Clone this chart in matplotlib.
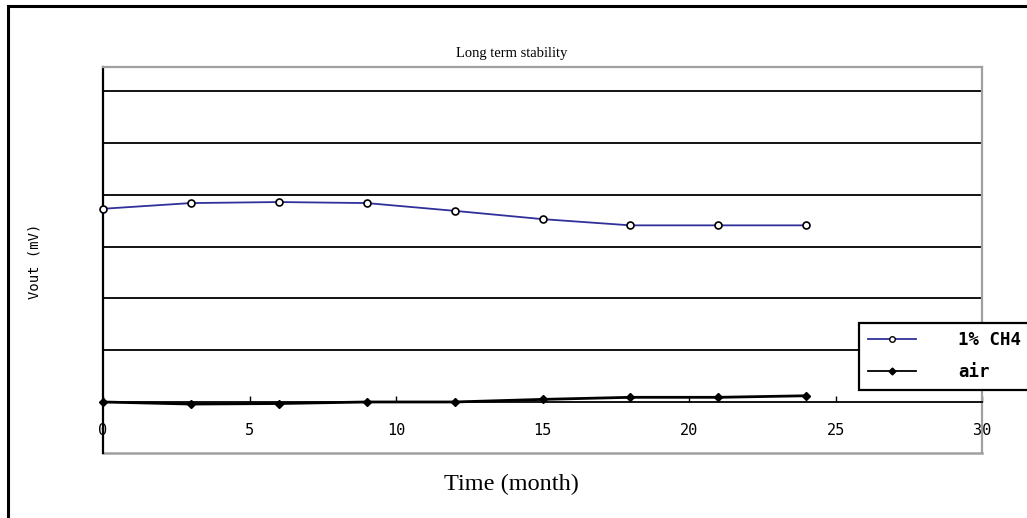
import matplotlib
matplotlib.use("Agg")
import matplotlib.pyplot as plt
from matplotlib.patches import Rectangle
from matplotlib.lines import Line2D

months = [0, 3, 6, 9, 12, 15, 18, 21, 24]
ch4 = [3.73, 3.84, 3.86, 3.84, 3.69, 3.53, 3.41, 3.41, 3.41]
air = [0.0, -0.04, -0.03, 0.0, 0.0, 0.05, 0.09, 0.09, 0.12]
xticks = [0, 5, 10, 15, 20, 25, 30]
grid_levels = [1, 2, 3, 4, 5, 6]

W, H = 1027, 518
fig = plt.figure(figsize=(W / 100, H / 100), dpi=100)
fig.patch.set_facecolor("white")

ax = fig.add_axes([103 / W, 1 - 453 / H, (982 - 103) / W, (453 - 67) / H])
ax.set_xlim(0, 30)
ax.set_ylim(-0.985, 6.467)

gray = "#a0a0a0"
for lv in grid_levels:
    ax.axhline(lv, color="black", lw=1.3, zorder=1)

ax.spines["left"].set_color("black")
ax.spines["left"].set_linewidth(1.6)
for s in ["top", "right"]:
    ax.spines[s].set_color(gray)
    ax.spines[s].set_linewidth(1.6)
ax.spines["bottom"].set_position(("data", 0))
ax.spines["bottom"].set_color("black")
ax.spines["bottom"].set_linewidth(1.3)
ax.plot([0, 1], [0, 0], transform=ax.transAxes, color=gray, lw=1.8, clip_on=False)

ax.set_yticks([])
ax.set_xticks(xticks)
ax.set_xticklabels([str(t) for t in xticks], family="DejaVu Sans Mono", fontsize=11)
ax.tick_params(axis="x", direction="in", length=4, width=1, pad=15, colors="black")

ax.plot(months, ch4, color="#30309a", lw=1.3, marker="o", ms=5,
        mfc="white", mec="black", mew=1.2, zorder=3, label="1% CH4", clip_on=False)
ax.plot(months, air, color="black", lw=2.0, marker="D", ms=4,
        mfc="black", mec="black", zorder=3, label="air", clip_on=False)

handles = [
    Line2D([], [], color="#30309a", lw=1.3, marker="o", ms=4, mfc="white", mec="black", mew=1.0),
    Line2D([], [], color="black", lw=1.3, marker="D", ms=3.5, mfc="black", mec="black"),
]
leg = fig.legend(handles, ["1% CH4", "air"], loc="upper left",
                 bbox_to_anchor=(859 / W, 1 - 322.7 / H),
                 prop={"family": "DejaVu Sans Mono", "size": 12.5, "weight": "bold"},
                 frameon=True, fancybox=False, edgecolor="black", framealpha=1,
                 borderpad=0.5, handlelength=2.8, handletextpad=2.4, labelspacing=0.8,
                 borderaxespad=0)
leg.get_frame().set_linewidth(1.6)

fig.text(512 / W, 1 - 53 / H, "Long term stability", ha="center", va="center",
         family="Liberation Serif", fontsize=10.5)
fig.text(511 / W, 1 - 484 / H, "Time (month)", ha="center", va="center",
         family="Liberation Serif", fontsize=17.5)
fig.text(35 / W, 1 - 261 / H, "Vout (mV)", ha="center", va="center", rotation=90,
         family="DejaVu Sans Mono", fontsize=10)

fig.add_artist(Rectangle((8 / W, -0.1), 1.2, 1 - 6 / H + 0.1, fill=False,
                         edgecolor="black", lw=2.2, transform=fig.transFigure))

fig.savefig("out.png", dpi=100)
